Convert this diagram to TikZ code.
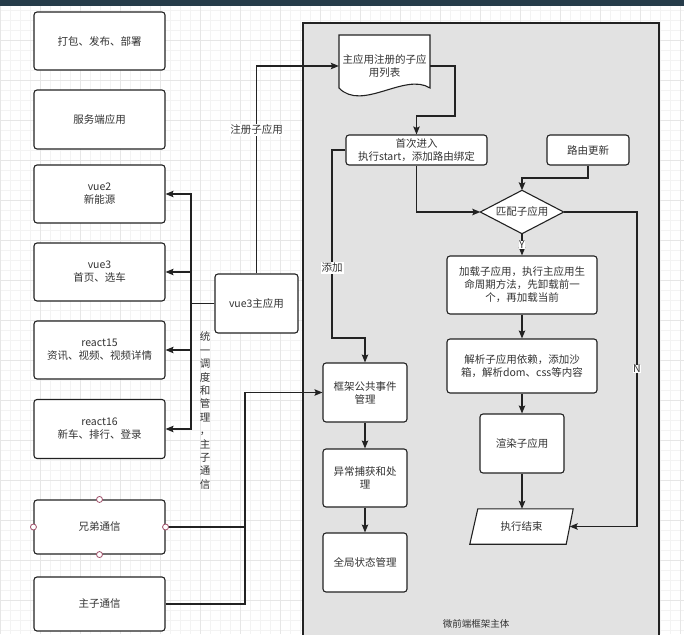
\documentclass[tikz,border=0pt]{standalone}
\usepackage{fontspec}
\setmainfont{Noto Sans CJK SC}
\usetikzlibrary{arrows.meta,calc}
\definecolor{lnc}{HTML}{222222}
\definecolor{txc}{HTML}{333333}
\definecolor{panel}{HTML}{E2E2E2}
\definecolor{topbar}{HTML}{263C4A}
\definecolor{gridmin}{HTML}{F3F3F3}
\definecolor{gridmaj}{HTML}{E6E6E6}
\definecolor{handle}{HTML}{A0506A}
\begin{document}
\begin{tikzpicture}[x=1pt,y=-1pt,
  font=\fontsize{10.5}{13}\selectfont, text=txc,
  box/.style={draw=lnc, line width=1.1pt, rounded corners=3pt, fill=white, align=center, inner sep=2pt},
  plain/.style={inner sep=0pt, align=center},
  arr/.style={draw=lnc, line width=1.1pt, -{Stealth[length=8pt,width=6.5pt,inset=1.5pt]}},
  wire/.style={draw=lnc, line width=1.1pt},
  lbl/.style={fill=white, inner sep=1pt},
  hdl/.style={circle, draw=handle, fill=white, line width=0.8pt, inner sep=0pt, minimum size=6pt}]
\clip (0,0) rectangle (684,634);
\fill[white] (0,0) rectangle (684,634);
% grid
\foreach \i in {0,10,...,680} \draw[gridmin, line width=0.4pt] (\i,0) -- (\i,634);
\foreach \i in {0,10,...,630} \draw[gridmin, line width=0.4pt] (0,\i) -- (684,\i);
\foreach \i in {0,40,...,680} \draw[gridmaj, line width=0.5pt] (\i,0) -- (\i,634);
\foreach \i in {0,40,...,630} \draw[gridmaj, line width=0.5pt] (0,\i) -- (684,\i);
% top bar
\fill[topbar] (0,0) rectangle (684,6);
% container
\path[fill=panel, draw=lnc, line width=1.1pt] (303,23) rectangle (659,660);

% left column
\node[box, minimum width=131pt, minimum height=58pt] (b1) at (99.5,41) {打包、发布、部署};
\node[box, minimum width=131pt, minimum height=59pt] (b2) at (99.5,119.5) {服务端应用};
\node[box, minimum width=131pt, minimum height=58pt] (b3) at (99.5,194) {vue2\\新能源};
\node[box, minimum width=131pt, minimum height=58pt] (b4) at (99.5,272) {vue3\\首页、选车};
\node[box, minimum width=131pt, minimum height=58pt] (b5) at (99.5,350) {react15\\资讯、视频、视频详情};
\node[box, minimum width=131pt, minimum height=59pt] (b6) at (99.5,429) {react16\\新车、排行、登录};
\node[box, minimum width=131pt, minimum height=54pt] (b7) at (99.5,527) {兄弟通信};
\node[box, minimum width=131pt, minimum height=54pt] (b8) at (99.5,604) {主子通信};

\node[box, minimum width=83pt, minimum height=59pt] (main) at (256.5,303.5) {vue3主应用};

% document shape
\draw[wire, fill=white] (339,35) -- (430,35) -- (430,88) .. controls (405,72) and (362,112) .. (339,88) -- cycle;
\node[plain, minimum width=91pt, minimum height=62pt] (doc) at (384.5,66) {主应用注册的子应\\用列表};

\node[box, minimum width=141pt, minimum height=30pt] (first) at (416.5,150) {首次进入\\执行start，添加路由绑定};
\node[box, minimum width=82pt, minimum height=30pt] (route) at (588,150) {路由更新};

% diamond
\node[plain, minimum width=83pt, minimum height=43pt] (dia) at (522,212) {};
\draw[wire, fill=white] (dia.north) -- (dia.east) -- (dia.south) -- (dia.west) -- cycle;
\node[plain] at (dia.center) {匹配子应用};

\node[box, minimum width=150pt, minimum height=58pt] (load) at (522,285) {加载子应用，执行主应用生\\命周期方法，先卸载前一\\个，再加载当前};
\node[box, minimum width=150pt, minimum height=54pt] (parse) at (522,366) {解析子应用依赖，添加沙\\箱，解析dom、css等内容};
\node[box, minimum width=84pt, minimum height=59pt] (render) at (522,443.5) {渲染子应用};

% parallelogram
\node[plain, minimum width=103pt, minimum height=35pt] (endn) at (521.5,526.5) {};
\draw[wire, fill=white] ($(endn.north west)+(8,0)$) -- (endn.north east) -- ($(endn.south east)+(-7,0)$) -- (endn.south west) -- cycle;
\node[plain] at (endn.center) {执行结束};
\coordinate (endE) at ($(endn.east)+(-3.5,0)$);

\node[box, minimum width=84pt, minimum height=59pt] (fw) at (365,392.5) {框架公共事件\\管理};
\node[box, minimum width=84pt, minimum height=58pt] (exc) at (365,478) {异常捕获和处\\理};
\node[box, minimum width=84pt, minimum height=59pt] (gs) at (365,562.5) {全局状态管理};

% connectors: bus
\coordinate (bus) at (191,303.5);
\draw[arr] (main.west) -- (bus) |- (b3.east);
\draw[arr] (main.west) -- (bus) |- (b4.east);
\draw[arr] (main.west) -- (bus) |- (b5.east);
\draw[arr] (main.west) -- (bus) |- (b6.east);
\node[plain, font=\fontsize{10.5}{13.4}\selectfont] (vlab) at (205,410.5) {统\\一\\调\\度\\和\\管\\理\\，\\主\\子\\通\\信};

\draw[arr] (main.north) |- (doc.west);
\node[lbl] (reglab) at (256.5,130) {注册子应用};

\draw[arr] (doc.east) -| (455,116) -| (first.north);
\draw[arr] (first.south) |- (dia.west);
\draw[arr] (first.west) -| (332,338) -| (fw.north);
\node[lbl] (addlab) at (332,268) {添加};

\draw[arr] (route.south) -- (588,178) -| (dia.north);
\draw[arr] (dia.south) -- (load.north);
\node[lbl, inner sep=0.5pt] (ylab) at (522,245) {Y};
\draw[arr] (dia.east) -- (637,212) |- (endE);
\node[lbl, inner sep=0.5pt] (nlab) at (637,369) {N};

\draw[arr] (load.south) -- (parse.north);
\draw[arr] (parse.south) -- (render.north);
\draw[arr] (render.south) -- (render.south |- endn.north);

\draw[arr] (fw.south) -- (exc.north);
\draw[arr] (exc.south) -- (gs.north);

\coordinate (cbus) at (245,392.5);
\draw[arr] (b8.east) -| (cbus) -- (fw.west);
\draw[wire] (b7.east) -- (b7.east -| cbus);

% handles on 兄弟通信
\node[hdl] at (b7.north) {};
\node[hdl] at (b7.south) {};
\node[hdl] at (b7.east) {};
\node[hdl] at (b7.west) {};

% bottom caption
\node[plain, font=\fontsize{9.5}{11}\selectfont] (cap) at (476,624) {微前端框架主体};
\end{tikzpicture}
\end{document}
